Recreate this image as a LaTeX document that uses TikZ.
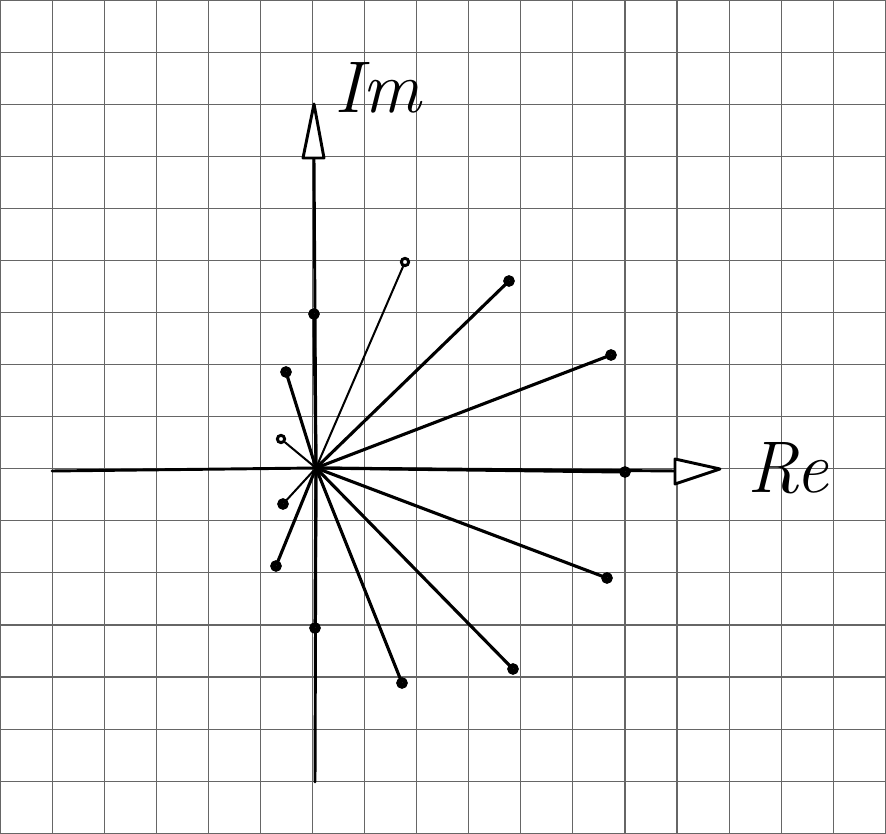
\documentclass[tikz,border=0pt]{standalone}
\usepackage{fontspec}
\begin{document}
\begin{tikzpicture}[x=0.0192cm,y=-0.0192cm,
  gridline/.style={draw=black!60,line width=0.6pt},
  axisline/.style={draw=black,line width=1.6pt,line cap=round},
  ray/.style={draw=black,line width=1.7pt,line cap=round},
  thinray/.style={draw=black,line width=1.1pt,line cap=round},
  tipshape/.style={draw=black,line width=1.6pt,line join=round,fill=white},
  dot/.style={circle,draw=black,fill=white,inner sep=0pt,minimum size=0.12cm,line width=2.8pt},
  ring/.style={circle,draw=black,fill=white,inner sep=0pt,minimum size=0.14cm,line width=1.6pt},
  axlabel/.style={font=\fontsize{40}{40}\selectfont\itshape,inner sep=0pt}]
\useasboundingbox (0,0) rectangle (886,834);
\fill[white] (0,0) rectangle (886,834);
% grid
\foreach \i in {0,...,17} \draw[gridline] (\i*52.08,0) -- (\i*52.08,834);
\foreach \j in {0,...,16} \draw[gridline] (0,\j*52.08) -- (886,\j*52.08);
% axes
\coordinate (O) at (316,468);
\coordinate (xl) at (52,471);
\coordinate (xr) at (676,471);
\coordinate (yb) at (315,782);
\coordinate (yt) at (314,158);
\draw[axisline] (xl) -- (O) -- (xr);
\draw[axisline] (yb) -- (O) -- (yt);
\draw[tipshape] (675,459) -- (720,469) -- (675,484) -- cycle;
\draw[tipshape] (303,158) -- (314,104) -- (324,158) -- cycle;
\node[axlabel] (im) at (378,88) {Im};
\node[axlabel] (re) at (788,468) {Re};
% points
\node[ring] (p1) at (405,262) {};
\node[dot] (p2) at (509,281) {};
\node[dot] (p3) at (611,355) {};
\node[dot] (p4) at (625,472) {};
\node[dot] (p5) at (607,578) {};
\node[dot] (p6) at (513,669) {};
\node[dot] (p7) at (402,683) {};
\node[dot] (p8) at (315,628) {};
\node[dot] (p9) at (276,566) {};
\node[dot] (p10) at (283,504) {};
\node[ring] (p11) at (281,439) {};
\node[dot] (p12) at (286,372) {};
\node[dot] (p13) at (314,314) {};
% rays
\draw[thinray] (O) -- (p1);
\draw[ray] (O) -- (p2);
\draw[ray] (O) -- (p3);
\draw[ray] (O) -- (p4);
\draw[ray] (O) -- (p5);
\draw[ray] (O) -- (p6);
\draw[ray] (O) -- (p7);
\draw[ray] (O) -- (p8);
\draw[ray] (O) -- (p9);
\draw[thinray] (O) -- (p10);
\draw[thinray] (O) -- (p11);
\draw[ray] (O) -- (p12);
\draw[ray] (O) -- (p13);
\end{tikzpicture}
\end{document}
